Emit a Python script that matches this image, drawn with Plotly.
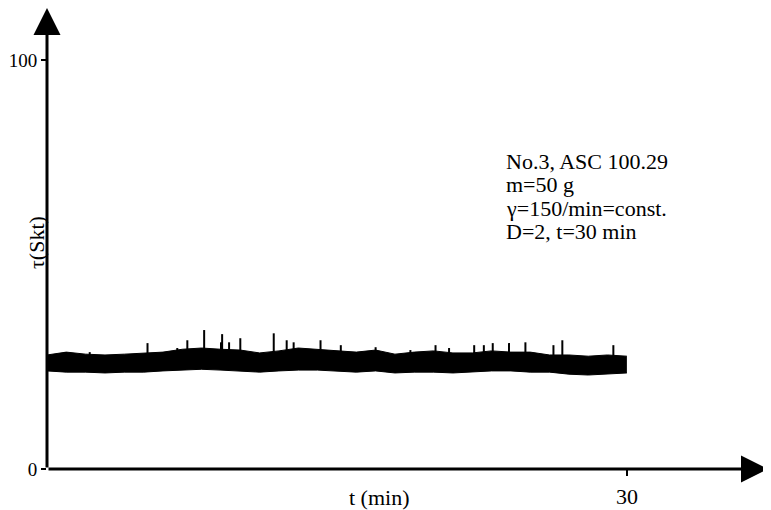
import plotly.graph_objects as go

# ---- data ----
t_min = list(range(0, 31))
tau_upper = [27.9, 28.6, 28.1, 27.9, 28.1, 28.4, 28.6, 29.3, 29.6, 29.3,
             29.1, 28.4, 28.9, 29.6, 29.3, 28.9, 28.6, 29.1, 28.1, 28.6,
             28.9, 28.4, 28.4, 28.9, 28.6, 28.6, 27.9, 27.9, 27.6, 27.9, 27.6]
tau_lower = [24.0, 23.7, 23.7, 23.5, 23.7, 23.7, 24.0, 24.2, 24.4, 24.2,
             24.0, 23.7, 24.0, 24.2, 24.2, 24.0, 23.7, 24.0, 23.5, 23.7,
             23.7, 23.5, 23.7, 24.0, 24.0, 23.7, 23.7, 23.2, 23.0, 23.2, 23.5]

spike_t = [0.93, 2.21, 5.2, 6.74, 7.26, 8.13, 9.0, 9.06, 9.42, 10.0, 11.73,
           12.4, 12.76, 14.15, 15.2, 17.0, 18.8, 20.1, 20.8, 22.1, 22.6,
           23.06, 23.9, 24.75, 26.2, 26.66, 29.3]
spike_tau = [28.6, 28.6, 30.8, 29.6, 31.5, 34.0, 31.0, 33.0, 31.0, 32.0, 33.2,
             31.5, 31.0, 31.5, 30.3, 29.8, 29.1, 30.3, 29.6, 30.3, 30.3,
             30.8, 30.8, 31.0, 30.3, 31.5, 30.3]
spike_base = 26.5

y_tickvals = [0, 100]
y_ticktext = ["0", "100"]
x_tickvals = [30]
x_ticktext = ["30"]

info_lines = ["No.3, ASC 100.29", "m=50 g", "γ=150/min=const.", "D=2, t=30 min"]
info_tau = [75.3, 69.7, 63.8, 58.2]
info_t = 23.63

X_MAX = 37.3
Y_MAX = 112.8
FONT = "Liberation Serif, Times New Roman, serif"

fig = go.Figure()

# band envelope
fig.add_trace(go.Scatter(x=t_min, y=tau_lower, mode="lines",
                         line=dict(color="black", width=1), showlegend=False,
                         hoverinfo="skip"))
fig.add_trace(go.Scatter(x=t_min, y=tau_upper, mode="lines", fill="tonexty",
                         fillcolor="black", line=dict(color="black", width=1),
                         showlegend=False, hoverinfo="skip"))

# spikes
sx, sy = [], []
for t, v in zip(spike_t, spike_tau):
    sx += [t, t, None]
    sy += [spike_base, v, None]
fig.add_trace(go.Scatter(x=sx, y=sy, mode="lines",
                         line=dict(color="black", width=2),
                         showlegend=False, hoverinfo="skip"))

annotations = []
# axis arrows
annotations.append(dict(x=0, y=Y_MAX, ax=0, ay=0, xref="x", yref="y",
                        axref="x", ayref="y", showarrow=True, arrowhead=2,
                        arrowsize=1.8, arrowwidth=3, arrowcolor="black", text=""))
annotations.append(dict(x=X_MAX, y=0, ax=0, ay=0, xref="x", yref="y",
                        axref="x", ayref="y", showarrow=True, arrowhead=2,
                        arrowsize=1.8, arrowwidth=3, arrowcolor="black", text=""))
# info text
for txt, yv in zip(info_lines, info_tau):
    annotations.append(dict(x=info_t, y=yv, xref="x", yref="y", text=txt,
                            showarrow=False, xanchor="left", yanchor="middle",
                            font=dict(family=FONT, size=22, color="black")))
# axis titles
annotations.append(dict(x=17.2, y=0, xref="x", yref="paper", text="t (min)",
                        showarrow=False, xanchor="center", yanchor="top",
                        yshift=-14, font=dict(family=FONT, size=22, color="black")))
annotations.append(dict(x=0, y=55.3, xref="paper", yref="y", text="τ(Skt)",
                        showarrow=False, xanchor="center", yanchor="middle",
                        xshift=-11, textangle=-90,
                        font=dict(family=FONT, size=22, color="black")))

# page body has an 8px default margin, so the figure is sized to fit the window
fig.update_layout(
    width=763, height=502,
    margin=dict(l=39, r=3, t=0, b=41, autoexpand=False),
    paper_bgcolor="white", plot_bgcolor="white",
    annotations=annotations,
    xaxis=dict(range=[0, X_MAX], showgrid=False, zeroline=False, showline=False,
               automargin=False,
               tickvals=x_tickvals, ticktext=x_ticktext, ticks="outside",
               ticklen=6, tickwidth=2, tickcolor="black",
               ticklabelstandoff=2,
               tickfont=dict(family=FONT, size=22, color="black")),
    yaxis=dict(range=[0, Y_MAX], showgrid=False, zeroline=False, showline=False,
               automargin=False,
               tickvals=y_tickvals, ticktext=y_ticktext, ticks="outside",
               ticklen=5, tickwidth=2, tickcolor="black",
               ticklabelstandoff=0,
               tickfont=dict(family=FONT, size=19, color="black")),
)

fig.write_html("out.html")
